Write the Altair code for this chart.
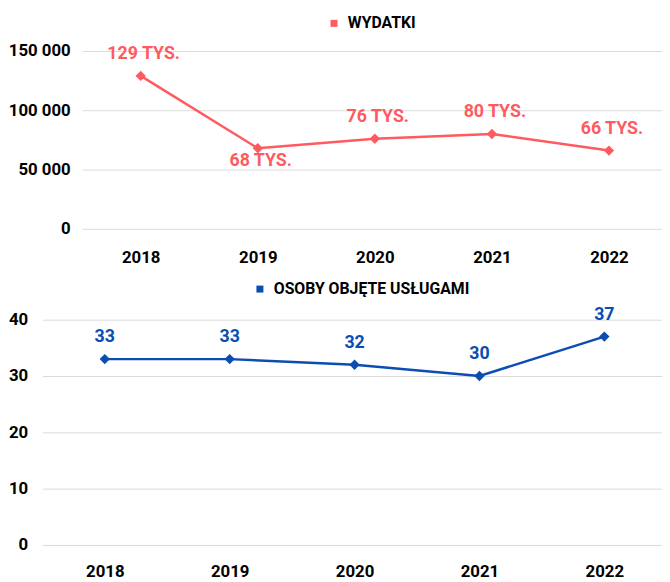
import altair as alt
import pandas as pd

YEARS = [2018, 2019, 2020, 2021, 2022]
WYDATKI = [129000, 68000, 76000, 80000, 66000]
WYDATKI_LABELS = ["129 TYS.", "68 TYS.", "76 TYS.", "80 TYS.", "66 TYS."]
OSOBY = [33, 33, 32, 30, 37]
OSOBY_LABELS = ["33", "33", "32", "30", "37"]
SERIES = ["WYDATKI", "OSOBY OBJĘTE USŁUGAMI"]
Y1_TICKS = [0, 50000, 100000, 150000]
Y2_TICKS = [0, 10, 20, 30, 40]

RED = "#FF5A5F"
BLUE = "#0B4DB3"
GRID = "#D9D9D9"
FONT = "Roboto, sans-serif"


df1 = pd.DataFrame({"rok": YEARS, "wartosc": WYDATKI, "etykieta": WYDATKI_LABELS, "seria": SERIES[0]})
df2 = pd.DataFrame({"rok": YEARS, "wartosc": OSOBY, "etykieta": OSOBY_LABELS, "seria": SERIES[1]})


def panel(df, color, series, yticks, ymax, width, height, legend_x, legend_y, label_expr,
          ylabel_pad, xlabel_pad, pad, align, dx, below_year=None):
    x = alt.X(
        "rok:O",
        scale=alt.Scale(type="point", padding=pad, align=align),
        axis=alt.Axis(title=None, labelAngle=0, ticks=False, domain=False, grid=False,
                      labelFont=FONT, labelFontSize=17, labelFontWeight="bold",
                      labelColor="#000000", labelPadding=xlabel_pad),
    )
    y = alt.Y(
        "wartosc:Q",
        scale=alt.Scale(domain=[0, ymax], nice=False),
        axis=alt.Axis(title=None, values=yticks, ticks=False, domain=False, grid=True,
                      gridColor=GRID, gridWidth=1, labelFont=FONT, labelFontSize=17,
                      labelFontWeight="bold", labelColor="#000000", labelPadding=ylabel_pad,
                      labelExpr=label_expr),
    )
    base = alt.Chart(df).encode(x=x, y=y)
    line = base.mark_line(color=color, strokeWidth=2.5)
    pts = base.mark_point(shape="diamond", filled=True, size=110, opacity=1).encode(
        color=alt.Color(
            "seria:N",
            scale=alt.Scale(domain=[series], range=[color]),
            legend=alt.Legend(title=None, orient="none", legendX=legend_x, legendY=legend_y,
                              symbolType="square", symbolSize=50, symbolStrokeWidth=0,
                              labelFont=FONT, labelFontSize=16, labelFontWeight="bold",
                              labelColor="#000000", labelOffset=6, labelLimit=0),
        )
    )
    txt_style = dict(font=FONT, fontSize=18, fontWeight="bold", color=color, baseline="middle", dx=dx)
    if below_year is not None:
        above = base.mark_text(dy=-22, **txt_style).encode(text="etykieta:N").transform_filter(
            f"datum.rok != {below_year}")
        below = base.mark_text(dy=13, **txt_style).encode(text="etykieta:N").transform_filter(
            f"datum.rok == {below_year}")
        layers = [line, pts, above, below]
    else:
        above = base.mark_text(dy=-22, **txt_style).encode(text="etykieta:N")
        layers = [line, pts, above]
    return alt.layer(*layers).properties(width=width, height=height)


top = panel(df1, RED, SERIES[0], Y1_TICKS, 150000, 587, 180, 287, -36,
            "datum.value >= 1000 ? format(floor(datum.value / 1000), 'd') + ' 000' : datum.label",
            12, 21, 0.477, 0.525, 3, below_year=2019)
bottom = panel(df2, BLUE, SERIES[1], Y2_TICKS, 40, 627, 228, 212, -39, "datum.label", 15, 19,
               0.48, 0.519, 0)

spacer = alt.Chart(pd.DataFrame({"a": [0]})).mark_point(opacity=0).properties(width=40, height=1)

top_row = alt.hconcat(spacer, top, spacing=0, bounds="flush")

chart = alt.vconcat(top_row, bottom, spacing=16).resolve_scale(color="independent").properties(
    padding={"left": 0, "top": 4, "right": 0, "bottom": 0},
    background="white",
).configure_view(strokeWidth=0)

chart.save("out.html", embed_options={"renderer": "svg", "actions": False})
